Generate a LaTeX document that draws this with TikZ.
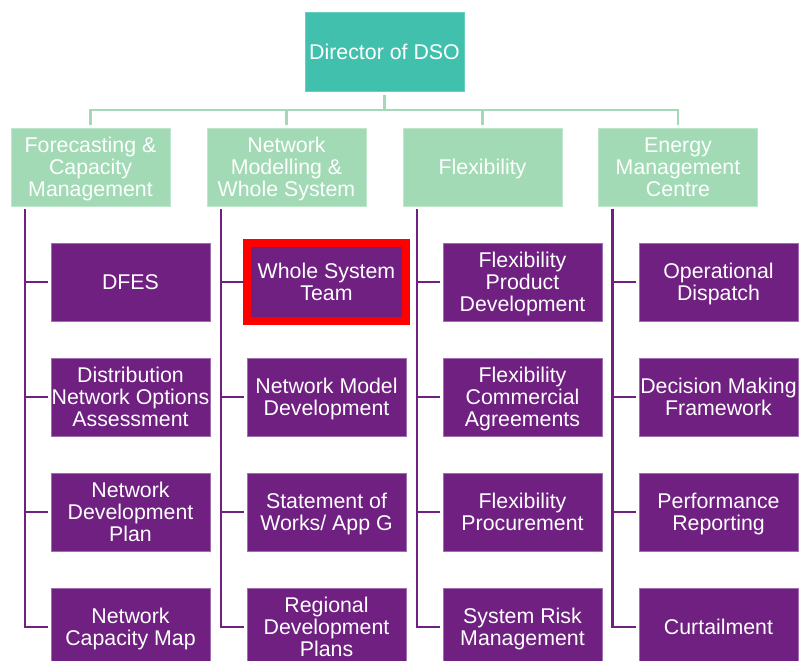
\documentclass[tikz,border=0pt]{standalone}
\usepackage{fontspec}
\setmainfont{Liberation Sans}
\usetikzlibrary{calc}
\definecolor{dirteal}{RGB}{65,193,173}
\definecolor{lgreen}{RGB}{161,218,180}
\definecolor{lgreenedge}{RGB}{190,230,203}
\definecolor{dpurple}{RGB}{111,32,128}
\definecolor{purpleedge}{RGB}{160,110,175}
\definecolor{hired}{RGB}{255,0,0}
\begin{document}
\begin{tikzpicture}[x=0.75pt,y=-0.75pt,
  boxbase/.style={rectangle,minimum width=119.25pt,minimum height=58.5pt,inner sep=0pt,outer sep=0pt,
    align=center,text=white,font=\fontsize{16}{16.5}\selectfont,line width=0.75pt,text depth=0pt},
  dirbox/.style={boxbase,fill=dirteal,draw=dirteal!80!white},
  headbox/.style={boxbase,fill=lgreen,draw=lgreenedge},
  itembox/.style={boxbase,fill=dpurple,draw=purpleedge},
  greenline/.style={draw=lgreen,line width=2.2pt},
  purpleline/.style={draw=dpurple,line width=2.1pt},
  redframe/.style={draw=hired,line width=6pt}]
\useasboundingbox (0,0) rectangle (799,660);
\clip (0,0) rectangle (799,660);

% director
\node[dirbox] (dir) at (384.5,52) {Director of DSO};

% heads
\node[headbox] (h1) at (90.5,167) {Forecasting \&\\Capacity\\Management};
\node[headbox] (h2) at (286.5,167) {Network\\Modelling \&\\Whole System};
\node[headbox] (h3) at (482.5,167) {Flexibility};
\node[headbox] (h4) at (678,167) {Energy\\Management\\Centre};

% items column 1
\node[itembox] (c11) at (130.5,282) {DFES};
\node[itembox] (c12) at (130.5,397) {Distribution\\Network Options\\Assessment};
\node[itembox] (c13) at (130.5,512) {Network\\Development\\Plan};
\node[itembox] (c14) at (130.5,627) {Network\\Capacity Map};
% column 2
\node[itembox] (c21) at (326.5,282) {Whole System\\Team};
\node[itembox] (c22) at (326.5,397) {Network Model\\Development};
\node[itembox] (c23) at (326.5,512) {Statement of\\Works/ App G};
\node[itembox] (c24) at (326.5,627) {Regional\\Development\\Plans};
% column 3
\node[itembox] (c31) at (522.5,282) {Flexibility\\Product\\Development};
\node[itembox] (c32) at (522.5,397) {Flexibility\\Commercial\\Agreements};
\node[itembox] (c33) at (522.5,512) {Flexibility\\Procurement};
\node[itembox] (c34) at (522.5,627) {System Risk\\Management};
% column 4
\node[itembox] (c41) at (718.5,282) {Operational\\Dispatch};
\node[itembox] (c42) at (718.5,397) {Decision Making\\Framework};
\node[itembox] (c43) at (718.5,512) {Performance\\Reporting};
\node[itembox] (c44) at (718.5,627) {Curtailment};

% highlight
\draw[redframe] (c21.south west) rectangle (c21.north east);

% top connectors
\coordinate (bus) at ($(dir.south)+(0,19)$);
\foreach \h in {h1,h2,h3,h4}{
  \draw[greenline,shorten <=3pt,shorten >=2.2pt] (dir.south) -- (bus) -| (\h.north);
}

% column connectors
\foreach \c in {1,2,3,4}{
  \coordinate (v\c) at ($(h\c.south west)+(14,0)$);
  \draw[purpleline,shorten <=2.2pt] (v\c) |- ([xshift=-2.2pt]c\c4.west);
  \foreach \r in {1,2,3}{
    \draw[purpleline,shorten >=2.2pt] (v\c |- c\c\r.west) -- (c\c\r.west);
  }
}
\end{tikzpicture}
\end{document}
